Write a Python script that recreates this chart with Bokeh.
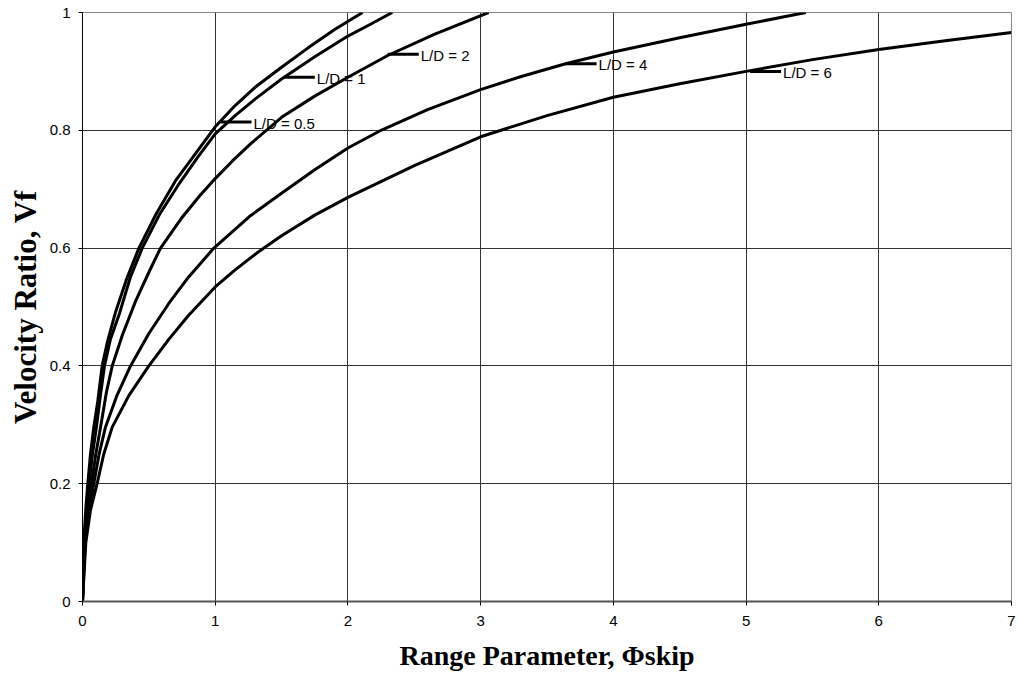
from bokeh.plotting import figure
from bokeh.models import Range1d, FixedTicker
from bokeh.core.properties import value
from bokeh.embed import file_html
from bokeh.resources import INLINE

# Velocity ratio Vf against range parameter, one curve per L/D
ld05_x = [0, 0.01, 0.025, 0.04, 0.06, 0.085, 0.115, 0.148, 0.19, 0.25, 0.33, 0.425, 0.55, 0.7, 0.85,
          1.0, 1.15, 1.3, 1.5, 1.7, 1.9, 2.11]
ld05_y = [0, 0.1, 0.158, 0.2, 0.25, 0.296, 0.34, 0.4, 0.443, 0.492, 0.546, 0.6, 0.656, 0.714, 0.76,
          0.806, 0.842, 0.873, 0.907, 0.94, 0.971, 1.0]

ld1_x = [0, 0.012, 0.03, 0.05, 0.075, 0.105, 0.135, 0.166, 0.21, 0.28, 0.36, 0.45, 0.58, 0.73, 0.87,
         1.0, 1.15, 1.3, 1.5, 1.75, 2.0, 2.17, 2.334]
ld1_y = [0, 0.1, 0.155, 0.2, 0.25, 0.296, 0.35, 0.4, 0.445, 0.49, 0.55, 0.6, 0.657, 0.71, 0.755,
         0.794, 0.825, 0.853, 0.887, 0.925, 0.96, 0.98, 1.0]

ld2_x = [0, 0.017, 0.04, 0.068, 0.1, 0.136, 0.18, 0.224, 0.3, 0.4, 0.5, 0.588, 0.75, 0.88, 1.0,
         1.13, 1.266, 1.5, 1.75, 2.0, 2.3, 2.65, 3.06]
ld2_y = [0, 0.1, 0.155, 0.2, 0.25, 0.296, 0.355, 0.4, 0.452, 0.51, 0.559, 0.6, 0.652, 0.688, 0.718,
         0.748, 0.777, 0.822, 0.858, 0.89, 0.927, 0.963, 1.0]

ld4_x = [0, 0.02, 0.05, 0.085, 0.125, 0.173, 0.26, 0.362, 0.5, 0.65, 0.8, 0.99, 1.266, 1.5, 1.75,
         2.0, 2.25, 2.6, 3.0, 3.3, 3.64, 4.0, 4.5, 5.0, 5.45]
ld4_y = [0, 0.1, 0.155, 0.2, 0.25, 0.296, 0.35, 0.4, 0.455, 0.506, 0.551, 0.6, 0.655, 0.693, 0.733,
         0.77, 0.8, 0.835, 0.869, 0.891, 0.913, 0.933, 0.957, 0.98, 1.0]

ld6_x = [0, 0.025, 0.06, 0.11, 0.16, 0.224, 0.35, 0.5, 0.65, 0.8, 1.0, 1.15, 1.316, 1.5, 1.75,
         2.0, 2.5, 3.0, 3.5, 4.0, 4.5, 5.0, 5.5, 6.0, 6.5, 7.0]
ld6_y = [0, 0.1, 0.155, 0.2, 0.25, 0.296, 0.35, 0.4, 0.445, 0.486, 0.534, 0.563, 0.592, 0.621, 0.656,
         0.686, 0.74, 0.789, 0.825, 0.856, 0.879, 0.9, 0.92, 0.937, 0.952, 0.966]

# Curve labels with leader lines
label_text = ["L/D = 0.5", "L/D = 1", "L/D = 2", "L/D = 4", "L/D = 6"]
label_x = [1.04, 1.517, 2.30, 3.64, 5.03]
label_y = [0.814, 0.890, 0.929, 0.913, 0.900]

x_ticks = [0, 1, 2, 3, 4, 5, 6, 7]
y_ticks = [0, 0.2, 0.4, 0.6, 0.8, 1.0]
y_tick_labels = ["0", "0.2", "0.4", "0.6", "0.8", "1"]

p = figure(width=1018, height=681, output_backend="svg", toolbar_location=None,
           x_range=Range1d(0, 7), y_range=Range1d(0, 1))
p.min_border_left = 82
p.min_border_right = 7
p.min_border_top = 12
p.min_border_bottom = 80
p.background_fill_color = "white"
p.border_fill_color = "white"
p.outline_line_color = "#888888"
p.outline_line_width = 1

for xs, ys in [(ld05_x, ld05_y), (ld1_x, ld1_y), (ld2_x, ld2_y), (ld4_x, ld4_y), (ld6_x, ld6_y)]:
    p.line(xs, ys, line_color="black", line_width=3, line_join="round")

p.ray(x=label_x, y=label_y, length=31, length_units="screen", angle=0,
      line_color="black", line_width=3)
p.text(x=label_x, y=label_y, text=label_text, x_offset=33, y_offset=1,
       text_font=value("Liberation Sans"), text_font_size="15px",
       text_baseline="middle", text_align="left", text_color="black")

for ax in (p.xaxis[0], p.yaxis[0]):
    ax.major_label_text_font = "Liberation Sans"
    ax.major_label_text_font_size = "15px"
    ax.major_label_text_color = "black"
    ax.axis_label_text_font = "Liberation Serif"
    ax.axis_label_text_font_style = "bold"
    ax.axis_label_text_color = "black"
    ax.major_tick_in = 0
    ax.major_tick_out = 4
    ax.minor_tick_in = 0
    ax.minor_tick_out = 0
    ax.major_tick_line_color = "black"
    ax.axis_line_color = "black"

p.xaxis.ticker = FixedTicker(ticks=x_ticks)
p.yaxis.ticker = FixedTicker(ticks=y_ticks)
p.yaxis.major_label_overrides = {t: s for t, s in zip(y_ticks, y_tick_labels)}
p.xaxis.axis_label = "Range Parameter, \u03a6skip"
p.yaxis.axis_label = "Velocity Ratio, Vf"
p.xaxis.axis_label_text_font_size = "28px"
p.yaxis.axis_label_text_font_size = "31px"
p.xaxis.major_label_standoff = 10
p.yaxis.major_label_standoff = 8
p.xaxis.axis_label_standoff = 11
p.yaxis.axis_label_standoff = 4
p.xaxis.axis_line_color = "#555555"
p.xaxis.axis_line_width = 2

p.xgrid.ticker = FixedTicker(ticks=x_ticks)
p.ygrid.ticker = FixedTicker(ticks=y_ticks)
p.grid.grid_line_color = "#333333"
p.grid.grid_line_width = 1

open("out.html", "w").write(file_html(p, INLINE))
